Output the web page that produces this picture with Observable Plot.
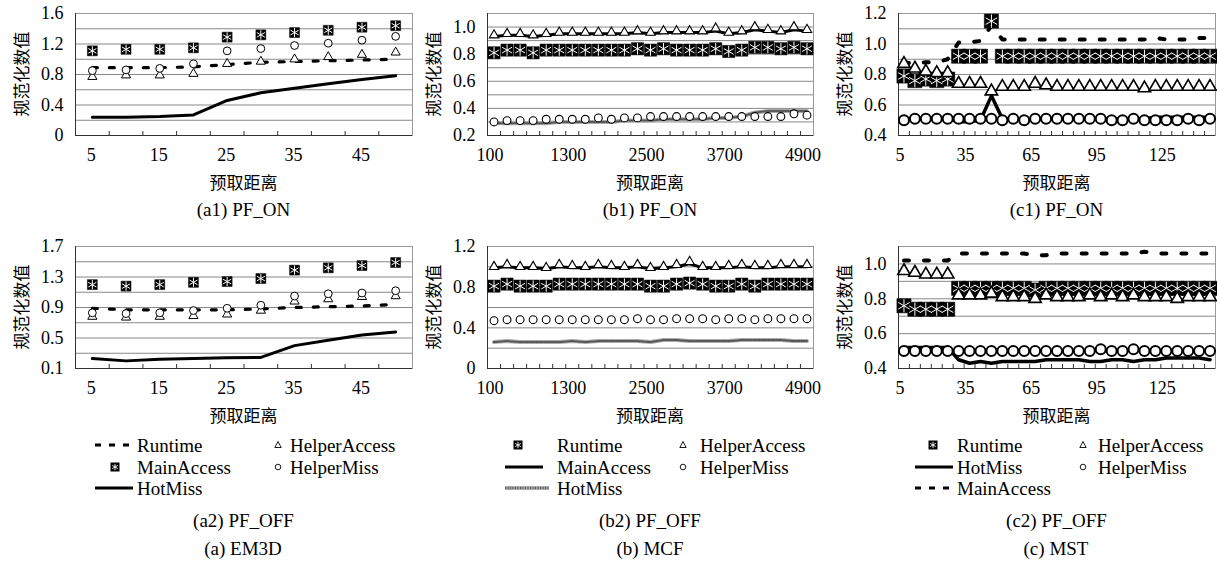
<!DOCTYPE html>
<html><head><meta charset="utf-8">
<script src="https://cdn.jsdelivr.net/npm/d3@7"></script>
<script src="https://cdn.jsdelivr.net/npm/@observablehq/plot@0.6"></script>
<style>
body{margin:0;background:#fff;}
#root{position:relative;width:1217px;height:565px;overflow:hidden;background:#fff;font-family:"Liberation Serif","DejaVu Serif",serif;color:#000;}
.abs{position:absolute;white-space:nowrap;line-height:1;}
.cjk{font-family:"Noto Sans CJK SC","Noto Sans CJK JP",sans-serif;}
.plot{position:absolute;}
</style></head><body><div id="root"></div>
<script>
// ---------- categories ----------
const xA = [5,10,15,20,25,30,35,40,45,50];
const xB = [100,300,500,700,900,1100,1300,1500,1700,1900,2100,2300,2500,2700,2900,3100,3300,3500,3700,3900,4100,4300,4500,4700,4900];
const xC = [5,10,15,20,25,30,35,40,45,50,55,60,65,70,75,80,85,90,95,100,105,110,115,120,125,130,135,140,145];

// ---------- tick labels ----------
const xTicksA = [5,15,25,35,45];
const xTicksB = [100,1300,2500,3700,4900];
const xTicksC = [5,35,65,95,125];
const yTicksA1 = [0,0.4,0.8,1.2,1.6];
const yTicksA2 = [0.1,0.5,0.9,1.3,1.7];
const yTicksB1 = [0.2,0.4,0.6,0.8,1.0];
const yTicksB2 = [0,0.4,0.8,1.2];
const yTicksC1 = [0.4,0.6,0.8,1.0,1.2];
const yTicksC2 = [0.4,0.6,0.8,1.0];

// ---------- (a) EM3D, PF_ON ----------
const a1Runtime      = [0.89,0.89,0.89,0.90,0.93,0.96,0.97,0.98,0.99,1.00];
const a1MainAccess   = [1.11,1.13,1.13,1.15,1.29,1.32,1.35,1.38,1.42,1.44];
const a1HotMiss      = [0.24,0.24,0.25,0.27,0.46,0.56,0.62,0.68,0.735,0.785];
const a1HelperAccess = [0.77,0.79,0.79,0.81,0.94,0.97,1.00,1.03,1.06,1.09];
const a1HelperMiss   = [0.85,0.86,0.88,0.94,1.11,1.14,1.18,1.21,1.25,1.30];
// ---------- (a) EM3D, PF_OFF ----------
const a2Runtime      = [0.89,0.87,0.87,0.87,0.87,0.88,0.90,0.91,0.92,0.94];
const a2MainAccess   = [1.20,1.18,1.20,1.23,1.24,1.28,1.39,1.42,1.45,1.49];
const a2HotMiss      = [0.23,0.20,0.22,0.23,0.24,0.245,0.40,0.47,0.54,0.58];
const a2HelperAccess = [0.78,0.77,0.78,0.79,0.81,0.86,0.98,1.01,1.04,1.05];
const a2HelperMiss   = [0.83,0.82,0.83,0.86,0.89,0.93,1.05,1.08,1.09,1.12];

// ---------- (b) MCF, PF_ON ----------
const b1Runtime      = [0.81,0.83,0.83,0.81,0.83,0.83,0.83,0.83,0.83,0.83,0.83,0.84,0.83,0.84,0.83,0.83,0.83,0.84,0.82,0.83,0.85,0.85,0.84,0.85,0.84];
const b1MainAccess   = [0.93,0.94,0.94,0.93,0.94,0.95,0.95,0.95,0.95,0.95,0.95,0.96,0.95,0.96,0.96,0.96,0.96,0.97,0.95,0.96,0.98,0.97,0.96,0.98,0.97];
const b1HotMiss      = [0.29,0.29,0.29,0.29,0.29,0.30,0.30,0.30,0.30,0.30,0.31,0.31,0.31,0.32,0.32,0.32,0.32,0.33,0.33,0.34,0.37,0.38,0.38,0.38,0.38];
const b1HelperAccess = [0.94,0.95,0.95,0.94,0.95,0.96,0.96,0.96,0.96,0.96,0.96,0.97,0.96,0.97,0.97,0.97,0.97,0.99,0.96,0.97,1.00,0.98,0.97,1.00,0.98];
const b1HelperMiss   = [0.30,0.31,0.31,0.31,0.32,0.32,0.32,0.32,0.33,0.32,0.33,0.33,0.34,0.34,0.34,0.34,0.34,0.34,0.34,0.34,0.34,0.34,0.34,0.36,0.35];
// ---------- (b) MCF, PF_OFF ----------
const b2Runtime      = [0.81,0.83,0.81,0.81,0.81,0.83,0.83,0.83,0.83,0.83,0.83,0.83,0.81,0.81,0.83,0.84,0.83,0.81,0.81,0.83,0.81,0.83,0.83,0.83,0.83];
const b2MainAccess   = [0.99,1.00,0.99,0.99,0.98,1.00,0.99,0.99,1.00,0.99,0.99,1.00,0.98,0.99,1.00,1.03,0.99,0.99,0.99,1.00,0.99,0.99,1.00,1.00,1.00];
const b2HotMiss      = [0.26,0.27,0.26,0.26,0.26,0.26,0.27,0.26,0.27,0.27,0.27,0.27,0.26,0.28,0.28,0.27,0.27,0.27,0.27,0.28,0.28,0.28,0.28,0.27,0.27];
const b2HelperAccess = [1.00,1.02,1.00,1.00,0.99,1.02,1.01,1.00,1.02,1.01,1.00,1.02,0.99,1.00,1.02,1.05,1.00,1.00,1.01,1.02,1.01,1.01,1.02,1.02,1.02];
const b2HelperMiss   = [0.47,0.48,0.48,0.48,0.48,0.48,0.48,0.48,0.48,0.48,0.48,0.49,0.48,0.48,0.49,0.49,0.49,0.48,0.49,0.49,0.48,0.49,0.49,0.49,0.49];

// ---------- (c) MST, PF_ON ----------
const c1Runtime      = [0.79,0.76,0.77,0.76,0.77,0.92,0.92,0.92,1.15,0.92,0.92,0.92,0.92,0.92,0.92,0.92,0.92,0.92,0.92,0.92,0.92,0.92,0.92,0.92,0.92,0.92,0.92,0.92,0.92];
const c1MainAccess   = [0.88,0.87,0.88,0.88,0.90,1.01,1.01,1.02,1.12,1.03,1.03,1.03,1.03,1.03,1.03,1.03,1.03,1.03,1.03,1.03,1.03,1.03,1.03,1.04,1.03,1.03,1.03,1.04,1.04];
const c1HotMiss      = [0.51,0.51,0.51,0.51,0.51,0.49,0.49,0.50,0.66,0.51,0.51,0.50,0.51,0.51,0.51,0.51,0.51,0.51,0.51,0.51,0.51,0.51,0.51,0.52,0.52,0.52,0.52,0.52,0.52];
const c1HelperAccess = [0.87,0.84,0.82,0.81,0.81,0.74,0.74,0.74,0.69,0.72,0.72,0.72,0.74,0.73,0.72,0.72,0.72,0.72,0.72,0.72,0.72,0.72,0.71,0.72,0.72,0.72,0.72,0.72,0.72];
const c1HelperMiss   = [0.50,0.51,0.51,0.51,0.51,0.51,0.51,0.51,0.51,0.50,0.51,0.50,0.51,0.51,0.51,0.51,0.51,0.51,0.51,0.50,0.50,0.51,0.50,0.50,0.50,0.50,0.51,0.50,0.51];
// ---------- (c) MST, PF_OFF ----------
const c2Runtime      = [0.76,0.74,0.74,0.74,0.74,0.86,0.86,0.86,0.86,0.86,0.86,0.86,0.85,0.86,0.86,0.86,0.86,0.86,0.86,0.86,0.86,0.86,0.86,0.86,0.86,0.86,0.86,0.86,0.86];
const c2MainAccess   = [1.02,1.02,1.02,1.02,1.02,1.06,1.06,1.06,1.06,1.06,1.06,1.06,1.05,1.05,1.06,1.06,1.06,1.06,1.06,1.06,1.06,1.06,1.07,1.06,1.06,1.06,1.06,1.06,1.06];
const c2HotMiss      = [0.52,0.52,0.52,0.52,0.52,0.45,0.43,0.44,0.43,0.44,0.44,0.44,0.44,0.45,0.45,0.45,0.45,0.44,0.44,0.45,0.45,0.44,0.45,0.45,0.46,0.46,0.46,0.46,0.45];
const c2HelperAccess = [0.96,0.95,0.94,0.94,0.94,0.82,0.82,0.82,0.83,0.81,0.81,0.81,0.80,0.82,0.81,0.81,0.81,0.82,0.81,0.82,0.81,0.82,0.81,0.81,0.81,0.80,0.81,0.81,0.81];
const c2HelperMiss   = [0.50,0.50,0.50,0.50,0.50,0.50,0.50,0.50,0.50,0.50,0.50,0.50,0.50,0.50,0.50,0.50,0.50,0.50,0.51,0.50,0.50,0.51,0.50,0.50,0.50,0.50,0.50,0.50,0.50];

// ---------- text ----------
const yTitle = "规范化数值";
const xTitle = "预取距离";
const captions = {a1:"(a1) PF_ON", b1:"(b1) PF_ON", c1:"(c1) PF_ON", a2:"(a2) PF_OFF", b2:"(b2) PF_OFF", c2:"(c2) PF_OFF"};
const groupCaptions = ["(a) EM3D", "(b) MCF", "(c) MST"];

// ---------- styles ----------
const stA = {sq:5.6, tri:3.4, triW:1, circ:3.9, circW:1, lineW:3, dashW:3.2, dash:"5,12"};
const stB = {sq:6.9, tri:3.5, triW:1.1, circ:3.9, circW:1.1, lineW:3, dashW:3, dash:"5,12"};
const stC = {sq:8, tri:4.6, triW:1.6, circ:5, circW:2, lineW:3.5, dashW:4, dash:"5,15"};

const fmtY = d => d === 0 ? "0" : d.toFixed(1);
const gridOf = (lo, hi, step) => d3.range(Math.round((hi-lo)/step)+1).map(i => +(lo + i*step).toFixed(3));
const boundsOf = xs => xs.slice(1).map((v,i) => (v + xs[i]) / 2);

function marksFor(kind, xs, ys, st){
  const data = xs.map((x,i) => ({x, y: ys[i]}));
  const o = {x:"x", y:"y"};
  switch(kind){
    case "dash": return [Plot.line(data,{...o, stroke:"#000", strokeWidth:st.dashW, strokeDasharray:st.dash})];
    case "line": return [Plot.line(data,{...o, stroke:"#000", strokeWidth:st.lineW})];
    case "hatch": return [Plot.line(data,{...o, stroke:"#aaa", strokeWidth:4}),
                          Plot.line(data,{...o, stroke:"#555", strokeWidth:2, strokeDasharray:"1,1.5"})];
    case "square": return [Plot.dot(data,{...o, symbol:"square", r:st.sq, fill:"#000", stroke:"#000", strokeWidth:0.5}),
                           Plot.dot(data,{...o, symbol:"asterisk", r:st.sq*0.78, stroke:"#fff", strokeWidth:1})];
    case "tri": return [Plot.dot(data,{...o, symbol:"triangle", r:st.tri, fill:"#fff", stroke:"#000", strokeWidth:st.triW})];
    case "circle": return [Plot.dot(data,{...o, symbol:"circle", r:st.circ, fill:"#fff", stroke:"#000", strokeWidth:st.circW})];
  }
}

const FH = 122, mT = 10, mB = 32, mL = 70, mR = 2;
const panels = [
  {id:"a1", left:75, top:13, w:337, xs:xA, xd:[2.5,52.5], xt:xTicksA, yd:[0,1.6], yt:yTicksA1, step:0.2, dx:-1, st:stA,
   series:[["dash",a1Runtime],["line",a1HotMiss],["tri",a1HelperAccess],["circle",a1HelperMiss],["square",a1MainAccess]]},
  {id:"b1", left:487, top:13, w:326, xs:xB, xd:[0,5000], xt:xTicksB, yd:[0.2,1.1], yt:yTicksB1, step:0.1, dx:-4, st:stB,
   series:[["hatch",b1HotMiss],["line",b1MainAccess],["square",b1Runtime],["circle",b1HelperMiss],["tri",b1HelperAccess]]},
  {id:"c1", left:898, top:13, w:317, xs:xC, xd:[2.5,147.5], xt:xTicksC, yd:[0.4,1.2], yt:yTicksC1, step:0.1, dx:-4, st:stC,
   series:[["dash",c1MainAccess],["square",c1Runtime],["line",c1HotMiss],["circle",c1HelperMiss],["tri",c1HelperAccess]]},
  {id:"a2", left:75, top:246, w:337, xs:xA, xd:[2.5,52.5], xt:xTicksA, yd:[0.1,1.7], yt:yTicksA2, step:0.2, dx:-1, st:stA,
   series:[["dash",a2Runtime],["line",a2HotMiss],["tri",a2HelperAccess],["circle",a2HelperMiss],["square",a2MainAccess]]},
  {id:"b2", left:487, top:246, w:326, xs:xB, xd:[0,5000], xt:xTicksB, yd:[0,1.2], yt:yTicksB2, step:0.2, dx:-4, st:stB,
   series:[["hatch",b2HotMiss],["line",b2MainAccess],["square",b2Runtime],["circle",b2HelperMiss],["tri",b2HelperAccess]]},
  {id:"c2", left:898, top:246, w:317, xs:xC, xd:[2.5,147.5], xt:xTicksC, yd:[0.4,1.1], yt:yTicksC2, step:0.1, dx:-4, st:stC,
   series:[["dash",c2MainAccess],["square",c2Runtime],["line",c2HotMiss],["circle",c2HelperMiss],["tri",c2HelperAccess]]},
];

const root = document.getElementById("root");
function label(text, cx, cy, size, cls, rot){
  const d = document.createElement("div");
  d.className = "abs " + (cls||"");
  d.textContent = text;
  d.style.left = cx + "px"; d.style.top = cy + "px";
  d.style.fontSize = size + "px";
  d.style.transform = "translate(-50%,-50%)" + (rot ? " rotate(-90deg)" : "");
  root.appendChild(d);
}

for (const p of panels){
  const chart = Plot.plot({
    width: mL + p.w + mR, height: mT + FH + mB,
    marginLeft: mL, marginRight: mR, marginTop: mT, marginBottom: mB,
    x: {domain: p.xd}, y: {domain: p.yd},
    style: {fontFamily: '"Liberation Serif","DejaVu Serif",serif', fontSize: "18px", background: "transparent", color:"#000", overflow:"visible"},
    marks: [
      Plot.ruleY(gridOf(p.yd[0], p.yd[1], p.step), {stroke:"#888", strokeWidth:1}),
      Plot.frame({stroke:"#999"}),
      Plot.ruleX([p.xd[0]], {stroke:"#333"}),
      Plot.ruleY([p.yd[0]], {stroke:"#333"}),
      Plot.tickX(boundsOf(p.xs), {stroke:"#333", insetTop: FH - 4}),
      Plot.axisX({ticks: p.xt, tickSize: 0, tickPadding: 13, tickFormat: d => String(d), dx: p.dx, label: null}),
      Plot.axisY({ticks: p.yt, tickSize: 0, tickPadding: 12, tickFormat: fmtY, label: null}),
      ...p.series.flatMap(([k, ys]) => marksFor(k, p.xs, ys, p.st))
    ]
  });
  chart.classList.add("plot");
  chart.style.left = (p.left - mL) + "px";
  chart.style.top = (p.top - mT) + "px";
  root.appendChild(chart);
  const cx = p.left + p.w / 2;
  const bottom = p.top + FH;
  label(yTitle, p.left - 55, p.top + FH / 2, 17, "cjk", true);
  label(xTitle, cx, bottom + 46, 17, "cjk");
  if (p.top < 100) label(captions[p.id], cx, bottom + 74, 19);
  else label(captions[p.id], cx, 520, 19);
}
[[243,"(a) EM3D"],[650,"(b) MCF"],[1056,"(c) MST"]].forEach(([x],i) => label(groupCaptions[i], x, 548, 19));

// ---------- legends ----------
const legendGroups = [
  {c1:95, c2sym:278, t1:137, t2:290, sqX:115, rows:[[["dash","Runtime"],["tri","HelperAccess"]],[["square","MainAccess"],["circle","HelperMiss"]],[["line","HotMiss"]]]},
  {c1:505, c2sym:683, t1:557, t2:700, sqX:518, rows:[[["square","Runtime"],["tri","HelperAccess"]],[["line","MainAccess"],["circle","HelperMiss"]],[["hatch","HotMiss"]]]},
  {c1:915, c2sym:1083, t1:957, t2:1098, sqX:933, rows:[[["square","Runtime"],["tri","HelperAccess"]],[["line","HotMiss"],["circle","HelperMiss"]],[["dash","MainAccess"]]]},
];
const rowY = [445, 467, 488];
const NS = "http://www.w3.org/2000/svg";
function swatch(kind, cx, cy, lineStart){
  const s = document.createElementNS(NS, "svg");
  s.setAttribute("width", 44); s.setAttribute("height", 20);
  s.style.position = "absolute";
  let left;
  if (kind === "dash" || kind === "line" || kind === "hatch") left = lineStart; else left = cx - 22;
  s.style.left = left + "px"; s.style.top = (cy - 10) + "px";
  let h = "";
  if (kind === "dash") h = `<line x1="0" y1="10" x2="38" y2="10" stroke="#000" stroke-width="3" stroke-dasharray="6,8"/>`;
  if (kind === "line") h = `<line x1="0" y1="10" x2="38" y2="10" stroke="#000" stroke-width="3.2"/>`;
  if (kind === "hatch") h = `<line x1="0" y1="10" x2="44" y2="10" stroke="#aaa" stroke-width="4"/><line x1="0" y1="10" x2="44" y2="10" stroke="#555" stroke-width="2" stroke-dasharray="1,1.5"/>`;
  if (kind === "square") h = `<rect x="17.5" y="5.5" width="9" height="9" fill="#000"/><path d="M22,6.8V13.2M19.2,8.4L24.8,11.6M19.2,11.6L24.8,8.4" stroke="#fff" stroke-width="0.9"/>`;
  if (kind === "tri") h = `<path d="M22,6.5L25.2,12.5H18.8Z" fill="#fff" stroke="#000" stroke-width="0.9"/>`;
  if (kind === "circle") h = `<circle cx="22" cy="10" r="2.8" fill="#fff" stroke="#000" stroke-width="0.9"/>`;
  s.innerHTML = h;
  root.appendChild(s);
}
function ltext(t, x, cy){
  const d = document.createElement("div");
  d.className = "abs"; d.textContent = t;
  d.style.left = x + "px"; d.style.top = cy + "px"; d.style.fontSize = "19px";
  d.style.transform = "translateY(-50%)";
  root.appendChild(d);
}
legendGroups.forEach(g => {
  g.rows.forEach((row, ri) => {
    const cy = rowY[ri];
    row.forEach(([kind, text], ci) => {
      if (ci === 0){ swatch(kind, g.sqX, cy, g.c1); ltext(text, g.t1, cy); }
      else { swatch(kind, g.c2sym, cy, g.c2sym); ltext(text, g.t2, cy); }
    });
  });
});
</script></body></html>
